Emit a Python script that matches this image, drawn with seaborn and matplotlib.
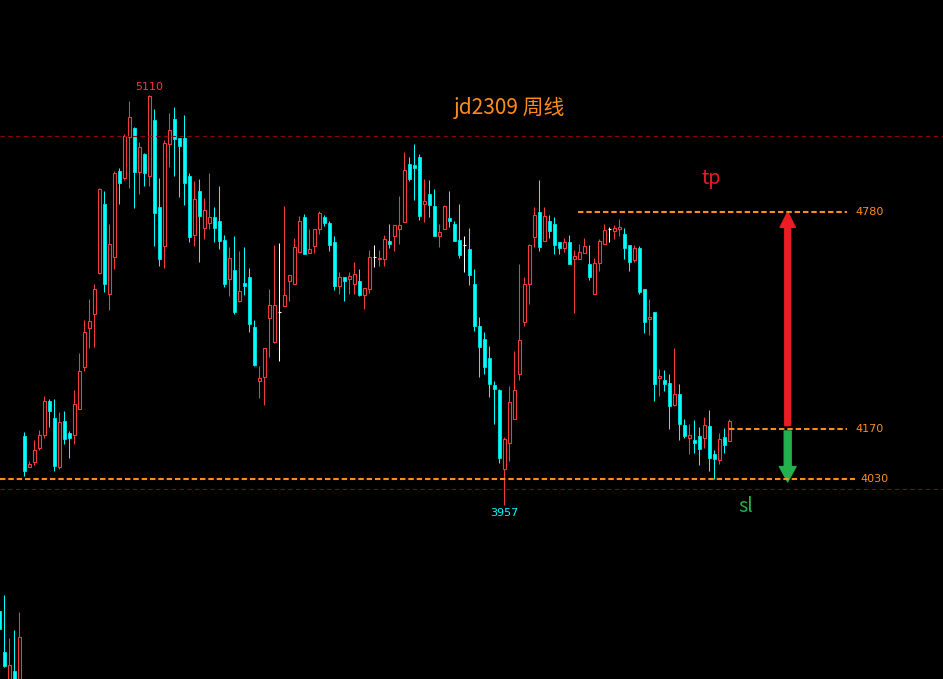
import numpy as np
import pandas as pd
import matplotlib
matplotlib.use("Agg")
import matplotlib.pyplot as plt
import seaborn as sns
from matplotlib.patches import FancyArrowPatch

# === weekly bars, jd2309 ===
opens = [4150, 4064, 4078, 4118, 4155, 4249, 4202, 4064, 4193, 4160,
         4155, 4227, 4345, 4455, 4495, 4609, 4804, 4551, 4654, 4895,
         4876, 4992, 5017, 4893, 4943, 4882, 5040, 4793, 4685, 4971,
         5043, 4987, 4987, 4882, 4717, 4839, 4734, 4750, 4765, 4755,
         4701, 4591, 4617, 4531, 4581, 4598, 4456, 4306, 4317, 4483,
         4416, 4498, 4517, 4585, 4577, 4667, 4766, 4664, 4686, 4732,
         4766, 4750, 4696, 4571, 4598, 4591, 4577, 4587, 4546, 4563,
         4653, 4647, 4647, 4699, 4714, 4732, 4751, 4916, 4913, 4934,
         4802, 4831, 4797, 4714, 4732, 4763, 4747, 4702, 4687, 4677,
         4578, 4460, 4424, 4371, 4294, 4280, 4058, 4130, 4200, 4324,
         4472, 4577, 4709, 4779, 4699, 4755, 4746, 4695, 4680, 4695,
         4647, 4647, 4666, 4634, 4549, 4636, 4689, 4732, 4727, 4732,
         4718, 4688, 4645, 4678, 4564, 4480, 4498, 4315, 4308, 4301,
         4238, 4269, 4182, 4146, 4139, 4151, 4144, 4179, 4100, 4083,
         4147, 4137]
highs = [4162, 4080, 4139, 4167, 4263, 4254, 4254, 4219, 4221, 4165,
         4280, 4383, 4476, 4535, 4578, 4848, 4839, 4746, 4895, 4903,
         4999, 5092, 5020, 4976, 4947, 5110, 5069, 4875, 4984, 5059,
         5074, 4987, 5053, 4891, 4867, 4873, 4821, 4891, 4793, 4853,
         4715, 4681, 4712, 4670, 4681, 4624, 4476, 4347, 4397, 4564,
         4687, 4693, 4796, 4603, 4708, 4768, 4775, 4733, 4733, 4783,
         4772, 4755, 4713, 4611, 4598, 4611, 4639, 4619, 4566, 4674,
         4688, 4674, 4716, 4747, 4744, 4826, 4948, 4934, 4971, 4944,
         4873, 4871, 4845, 4747, 4800, 4840, 4755, 4803, 4713, 4735,
         4620, 4484, 4444, 4404, 4306, 4284, 4148, 4291, 4389, 4634,
         4598, 4690, 4795, 4870, 4793, 4773, 4765, 4695, 4706, 4715,
         4673, 4690, 4706, 4687, 4650, 4704, 4746, 4737, 4743, 4761,
         4734, 4688, 4688, 4685, 4564, 4536, 4498, 4339, 4336, 4325,
         4399, 4297, 4200, 4184, 4196, 4175, 4205, 4224, 4111, 4160,
         4172, 4198]
lows = [4039, 4064, 4069, 4111, 4146, 4177, 4053, 4058, 4128, 4089,
        4128, 4227, 4334, 4399, 4401, 4606, 4556, 4504, 4620, 4802,
        4870, 4848, 4792, 4832, 4853, 4853, 4685, 4629, 4623, 4907,
        4881, 4823, 4800, 4697, 4685, 4640, 4704, 4732, 4697, 4676,
        4570, 4545, 4493, 4528, 4547, 4442, 4347, 4258, 4238, 4374,
        4413, 4362, 4517, 4531, 4577, 4667, 4663, 4664, 4666, 4719,
        4742, 4671, 4561, 4550, 4530, 4550, 4550, 4545, 4508, 4554,
        4627, 4629, 4629, 4680, 4672, 4690, 4751, 4866, 4814, 4758,
        4751, 4765, 4714, 4683, 4732, 4739, 4700, 4652, 4613, 4575,
        4447, 4318, 4325, 4260, 4185, 4075, 3957, 4081, 4200, 4308,
        4460, 4521, 4682, 4671, 4699, 4706, 4662, 4662, 4668, 4634,
        4497, 4647, 4666, 4589, 4549, 4615, 4689, 4697, 4704, 4714,
        4648, 4615, 4641, 4550, 4441, 4435, 4250, 4264, 4278, 4170,
        4236, 4139, 4146, 4100, 4104, 4069, 4116, 4052, 4030, 4072,
        4104, 4137]
closes = [4053, 4071, 4111, 4153, 4249, 4221, 4066, 4189, 4142, 4146,
          4240, 4333, 4442, 4474, 4565, 4846, 4579, 4689, 4889, 4862,
          4994, 5046, 4893, 4962, 4889, 5105, 4778, 4648, 4973, 5010,
          4985, 4965, 4862, 4711, 4818, 4770, 4787, 4765, 4734, 4698,
          4578, 4650, 4500, 4558, 4573, 4465, 4350, 4314, 4397, 4519,
          4519, 4498, 4547, 4603, 4682, 4755, 4663, 4677, 4733, 4777,
          4749, 4688, 4571, 4598, 4585, 4601, 4605, 4547, 4566, 4653,
          4653, 4652, 4705, 4691, 4744, 4744, 4899, 4873, 4905, 4770,
          4812, 4800, 4714, 4723, 4797, 4756, 4700, 4660, 4687, 4602,
          4461, 4402, 4346, 4297, 4283, 4088, 4141, 4245, 4280, 4420,
          4577, 4687, 4773, 4682, 4770, 4727, 4687, 4680, 4695, 4634,
          4656, 4667, 4685, 4598, 4638, 4698, 4731, 4732, 4734, 4739,
          4680, 4641, 4678, 4556, 4472, 4486, 4297, 4319, 4297, 4236,
          4269, 4184, 4151, 4153, 4132, 4114, 4182, 4090, 4086, 4142,
          4125, 4193]

# pieces of another window showing at the bottom-left corner
corner_open = [3659, 3544, 3440, 3490, 3440]
corner_high = [3659, 3704, 3583, 3606, 3656]
corner_low = [3608, 3502, 3430, 3430, 3430]
corner_close = [3608, 3505, 3507, 3440, 3586]

# levels
tp_level = 4780
entry_level = 4170
sl_level = 4030
ref_lines = [4994, 4001]
high_label = "5110"
low_label = "3957"
title = "jd2309 周线"

df = pd.DataFrame({"open": opens, "high": highs, "low": lows, "close": closes})
df["x"] = np.arange(len(df))
corner = pd.DataFrame({"open": corner_open, "high": corner_high,
                       "low": corner_low, "close": corner_close})
corner["x"] = np.arange(-len(corner), 0)

RED = "#f23c3c"
CYAN = "#00ffff"
ORANGE = "#ff8c1a"
DARKRED = "#8c0000"

sns.set_theme(style="dark", rc={"axes.facecolor": "black", "figure.facecolor": "black"})
plt.rcParams["font.family"] = ["Noto Sans CJK SC", "DejaVu Sans"]

fig = plt.figure(figsize=(9.43, 6.79), dpi=100)
ax = fig.add_axes([0, 0, 1, 1])
ax.set_facecolor("black")


def draw_candles(ax, d):
    for _, r in d.iterrows():
        o, c, h, l, x = r["open"], r["close"], r["high"], r["low"], r["x"]
        lo, hi = min(o, c), max(o, c)
        if c > o:
            col = RED
        elif c < o:
            col = CYAN
        else:
            col = "white"
        ax.vlines(x, l, lo, color=col, lw=0.75)
        ax.vlines(x, hi, h, color=col, lw=0.75)
        if c > o:
            ax.bar(x, hi - lo, bottom=lo, width=0.55, color="black",
                   edgecolor=RED, linewidth=0.8)
        elif c < o:
            ax.bar(x, hi - lo, bottom=lo, width=0.65, color=CYAN,
                   edgecolor=CYAN, linewidth=0.5)
        else:
            ax.hlines(c, x - 0.35, x + 0.35, color="white", lw=0.8)


draw_candles(ax, df)
draw_candles(ax, corner)

# pixel layout: bar k sits at 24.3 + 5k px
x_left = -24.3 / 5
x_right = (943 - 24.3) / 5
ax.set_xlim(x_left, x_right)
ax.set_ylim(3468, 5376)
ax.axis("off")

# reference lines
for lv in ref_lines:
    ax.plot([x_left, x_right], [lv, lv], color=DARKRED, lw=0.8, dashes=(4, 3))

dash = dict(color=ORANGE, lw=1.5, dashes=(2.6, 1.4))
ax.plot([(578 - 24.3) / 5, (847 - 24.3) / 5], [tp_level] * 2, **dash)
ax.plot([(729 - 24.3) / 5, (847 - 24.3) / 5], [entry_level] * 2, **dash)
ax.plot([x_left, (855 - 24.3) / 5], [sl_level] * 2, **dash)

lab_x = (855 - 24.3) / 5
ax.text(lab_x, tp_level, str(tp_level), color=ORANGE, fontsize=8, va="center",
        family="DejaVu Sans")
ax.text(lab_x, entry_level, str(entry_level), color=ORANGE, fontsize=8, va="center",
        family="DejaVu Sans")
ax.text((860 - 24.3) / 5, sl_level, str(sl_level), color=ORANGE, fontsize=8,
        va="center", family="DejaVu Sans")

# high / low marks
i_hi = int(np.argmax(highs))
i_lo = int(np.argmin(lows))
ax.text(i_hi, highs[i_hi] + 22, high_label, color=RED, fontsize=8, ha="center",
        va="center", family="DejaVu Sans")
ax.text(i_lo, lows[i_lo] - 22, low_label, color=CYAN, fontsize=8, ha="center",
        va="center", family="DejaVu Sans")

ax.text((510 - 24.3) / 5, 4780 + (212 - 108) * 2.81, title, color=ORANGE,
        fontsize=15, ha="center", va="center")

# tp / sl arrows
arr_x = (787.7 - 24.3) / 5
ax.add_patch(FancyArrowPatch((arr_x, entry_level + 10), (arr_x, tp_level),
                             arrowstyle="simple,head_length=1.1,head_width=1.1,tail_width=0.42",
                             mutation_scale=10, color="#ed1c24", shrinkA=0, shrinkB=0))
ax.add_patch(FancyArrowPatch((arr_x, entry_level - 5), (arr_x, sl_level - 8),
                             arrowstyle="simple,head_length=1.1,head_width=1.2,tail_width=0.5",
                             mutation_scale=10, color="#22b14c", shrinkA=0, shrinkB=0))
ax.text((711 - 24.3) / 5, 4780 + (212 - 178) * 2.81, "tp", color="#ed1c24",
        fontsize=14, ha="center", va="center")
ax.text((746 - 24.3) / 5, 4780 - (506 - 212) * 2.81, "sl", color="#22b14c",
        fontsize=14, ha="center", va="center")

fig.savefig("out.png", dpi=100, facecolor="black")
